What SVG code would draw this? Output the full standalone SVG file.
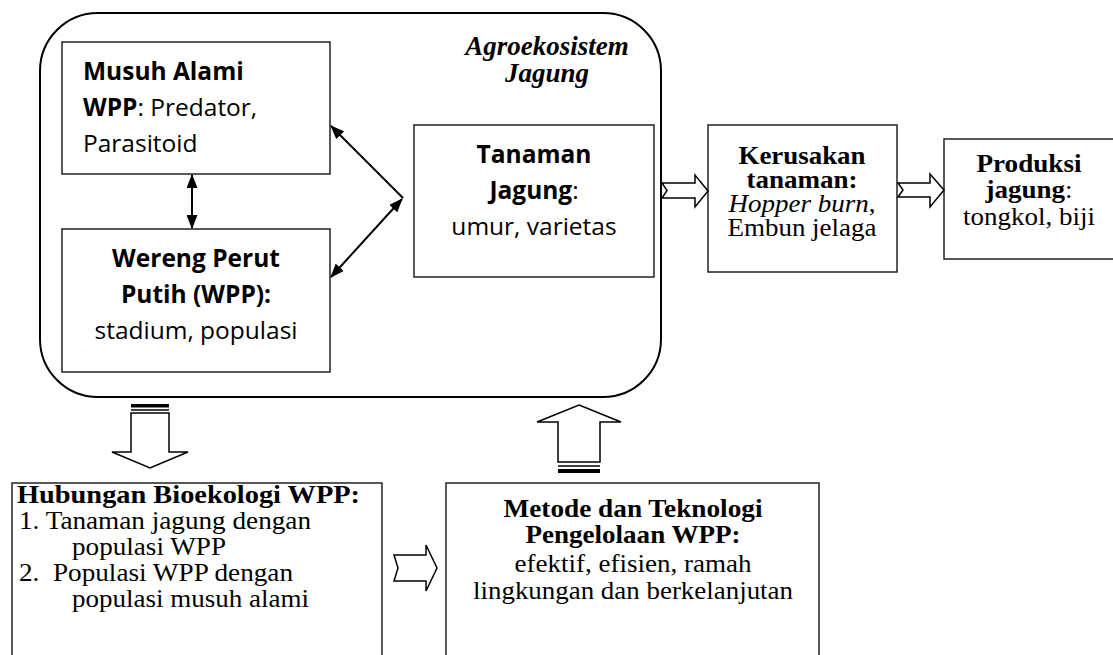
<svg xmlns="http://www.w3.org/2000/svg" width="1113" height="655" viewBox="0 0 1113 655">
<defs>
<style>
.box{fill:#fff;stroke:#222;stroke-width:1.5}
.outer{fill:none;stroke:#000;stroke-width:2}
.blk{fill:#fff;stroke:#000;stroke-width:1.5;stroke-linejoin:miter}
.ln{stroke:#000;stroke-width:2;fill:none}
.sans{font-family:"Open Sans","Noto Sans",sans-serif;font-size:24.5px;fill:#000}
.serif{font-family:"Liberation Serif","Times New Roman",serif;font-size:25.5px;fill:#000}
.title{font-size:27px}
.b{font-weight:bold}
.i{font-style:italic}
.c{text-anchor:middle}
</style>
<marker id="ah" viewBox="0 0 14 11" refX="13" refY="5.5" markerWidth="14" markerHeight="11" markerUnits="userSpaceOnUse" orient="auto-start-reverse">
<path d="M0,0 L14,5.5 L0,11 z" fill="#000"/>
</marker>
</defs>
<rect width="1113" height="655" fill="#fff"/>

<g id="agroekosistem">
<rect class="outer" x="40" y="13" width="621" height="384" rx="58" ry="58"/>
<text class="serif title b i c" x="547" y="55">Agroekosistem</text>
<text class="serif title b i c" x="547" y="82">Jagung</text>
</g>

<g id="musuh-alami">
<rect class="box" x="62" y="42" width="268" height="132"/>
<text class="sans b" x="83" y="80">Musuh Alami</text>
<text class="sans" x="83" y="116"><tspan class="b">WPP</tspan>: Predator,</text>
<text class="sans" x="83" y="152">Parasitoid</text>
</g>

<g id="wereng">
<rect class="box" x="62" y="229" width="268" height="143"/>
<text class="sans b c" x="196" y="267">Wereng Perut</text>
<text class="sans b c" x="196" y="303">Putih (WPP):</text>
<text class="sans c" x="196" y="339">stadium, populasi</text>
</g>

<g id="tanaman">
<rect class="box" x="414" y="125" width="240" height="152"/>
<text class="sans b c" x="534" y="163">Tanaman</text>
<text class="sans c" x="534" y="199"><tspan class="b">Jagung</tspan>:</text>
<text class="sans c" x="534" y="235">umur, varietas</text>
</g>

<g id="kerusakan">
<rect class="box" x="708" y="125" width="189" height="147"/>
<text class="serif b c" x="802" y="164" textLength="127" lengthAdjust="spacingAndGlyphs">Kerusakan</text>
<text class="serif b c" x="802" y="188" textLength="111" lengthAdjust="spacingAndGlyphs">tanaman:</text>
<text class="serif c" x="802" y="212" textLength="147" lengthAdjust="spacingAndGlyphs"><tspan class="i">Hopper burn</tspan>,</text>
<text class="serif c" x="802" y="236" textLength="149" lengthAdjust="spacingAndGlyphs">Embun jelaga</text>
</g>

<g id="produksi">
<rect class="box" x="944" y="139" width="180" height="120"/>
<text class="serif b c" x="1029" y="172" textLength="105" lengthAdjust="spacingAndGlyphs">Produksi</text>
<text class="serif c" x="1029" y="198" textLength="87" lengthAdjust="spacingAndGlyphs"><tspan class="b">jagung</tspan>:</text>
<text class="serif c" x="1029" y="225" textLength="132" lengthAdjust="spacingAndGlyphs">tongkol, biji</text>
</g>

<g id="hubungan">
<rect class="box" x="12" y="483" width="370" height="200"/>
<text class="serif b" x="17" y="503" textLength="343" lengthAdjust="spacingAndGlyphs">Hubungan Bioekologi WPP:</text>
<text class="serif" x="19" y="529" textLength="292" lengthAdjust="spacingAndGlyphs">1. Tanaman jagung dengan</text>
<text class="serif" x="72" y="555" textLength="154" lengthAdjust="spacingAndGlyphs">populasi WPP</text>
<text class="serif" x="19" y="581" xml:space="preserve" textLength="274" lengthAdjust="spacingAndGlyphs">2.  Populasi WPP dengan</text>
<text class="serif" x="72" y="607" textLength="237" lengthAdjust="spacingAndGlyphs">populasi musuh alami</text>
</g>

<g id="metode">
<rect class="box" x="446" y="483" width="373" height="200"/>
<text class="serif b c" x="633" y="517" textLength="259" lengthAdjust="spacingAndGlyphs">Metode dan Teknologi</text>
<text class="serif b c" x="633" y="543" textLength="215" lengthAdjust="spacingAndGlyphs">Pengelolaan WPP:</text>
<text class="serif c" x="633" y="572" textLength="237" lengthAdjust="spacingAndGlyphs">efektif, efisien, ramah</text>
<text class="serif c" x="633" y="599" textLength="320" lengthAdjust="spacingAndGlyphs">lingkungan dan berkelanjutan</text>
</g>

<g id="connectors">
<line class="ln" x1="192" y1="175" x2="192" y2="228" marker-start="url(#ah)" marker-end="url(#ah)"/>
<line class="ln" x1="403" y1="198" x2="331" y2="126" marker-end="url(#ah)"/>
<line class="ln" x1="402" y1="199" x2="331" y2="277" marker-start="url(#ah)" marker-end="url(#ah)"/>
<polygon class="blk" points="662,183 695,183 695,175 708,191 695,207 695,198 662,198 667,190.5"/>
<polygon class="blk" points="898,183 930,183 930,174 944,190 930,207 930,197 898,197 903,190"/>
<polygon class="blk" points="394,555 426,555 426,545 437,568 426,591 426,581 394,581 398,568"/>
<rect x="131" y="404" width="38" height="3.5" fill="#000"/>
<line x1="131" y1="410" x2="169" y2="410" stroke="#000" stroke-width="1.5"/>
<polygon class="blk" points="131,413 169,413 169,452 188,452 150,468 112,452 131,452"/>
<polygon class="blk" points="579,405 621,422 600,422 600,462 558,462 558,422 537,422"/>
<line x1="558" y1="466" x2="600" y2="466" stroke="#000" stroke-width="1.5"/>
<rect x="558" y="469" width="42" height="4" fill="#000"/>
</g>
</svg>
